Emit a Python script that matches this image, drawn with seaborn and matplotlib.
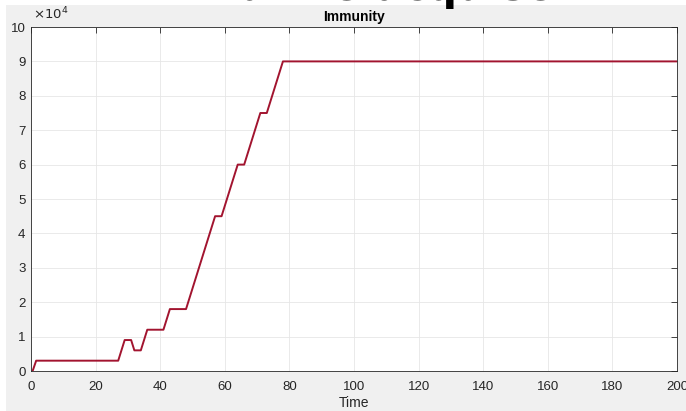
import matplotlib
matplotlib.use("Agg")
import matplotlib.pyplot as plt
from matplotlib.patches import Rectangle
from matplotlib.ticker import FuncFormatter
import seaborn as sns
import pandas as pd

# Data
time = [0.5, 1.6, 27, 29, 31, 32, 34, 36, 41, 43, 48, 57, 59, 64, 66, 71, 73, 78, 200]
immunity = [0, 3000, 3000, 9000, 9000, 6000, 6000, 12000, 12000, 18000, 18000,
            45000, 45000, 60000, 60000, 75000, 75000, 90000, 90000]
x_ticks = list(range(0, 201, 20))
y_ticks = list(range(0, 100001, 10000))

sns.set_style("white")
plt.rcParams['font.family'] = ['Liberation Sans', 'DejaVu Sans']

W, H = 686, 411
fig = plt.figure(figsize=(W / 100, H / 100), dpi=100)
fig.patch.set_facecolor("white")
fig.patches.append(Rectangle((6 / W, 0), 1 - 6 / W, (H - 5) / H, transform=fig.transFigure,
                             facecolor="#f0f0f0", edgecolor="none", zorder=-5))

ax = fig.add_axes([31 / W, 40 / H, 646 / W, 344 / H])
ax.set_facecolor("white")
df = pd.DataFrame({"Time": time, "Immunity": immunity})
sns.lineplot(data=df, x="Time", y="Immunity", ax=ax, color="#A2142F", linewidth=1.4,
             estimator=None, sort=False)

ax.set_xlim(0, 200)
ax.set_ylim(0, 100000)
ax.set_xticks(x_ticks)
ax.set_yticks(y_ticks)
ax.yaxis.set_major_formatter(FuncFormatter(lambda v, p: f"{v / 1e4:g}"))
ax.grid(True, color="#e6e6e6", linewidth=0.6)
ax.set_axisbelow(True)
ax.tick_params(direction="in", length=4, width=0.6, colors="#262626", labelsize=9.5,
               top=True, right=True, labeltop=False, labelright=False)
ax.tick_params(axis="x", pad=7)
ax.tick_params(axis="y", pad=4)
for s in ax.spines.values():
    s.set_color("#262626")
    s.set_linewidth(0.6)
ax.set_xlabel("Time", fontsize=10, color="#262626", labelpad=2)
ax.set_ylabel("")
ax.set_title("Immunity", fontsize=10, fontweight="bold", color="#000000", pad=4)
ax.text(0.003, 1.015, r"$\times10^{4}$", transform=ax.transAxes, fontsize=9.5,
        color="#262626", ha="left", va="bottom")

fig.text(345 / W, 1 - 0.2 / H, "Immunité acquise", fontsize=30, fontweight="bold",
         family="DejaVu Sans", color="black", ha="center", va="baseline", zorder=10)

fig.savefig("out.png", dpi=100, facecolor=fig.get_facecolor())
